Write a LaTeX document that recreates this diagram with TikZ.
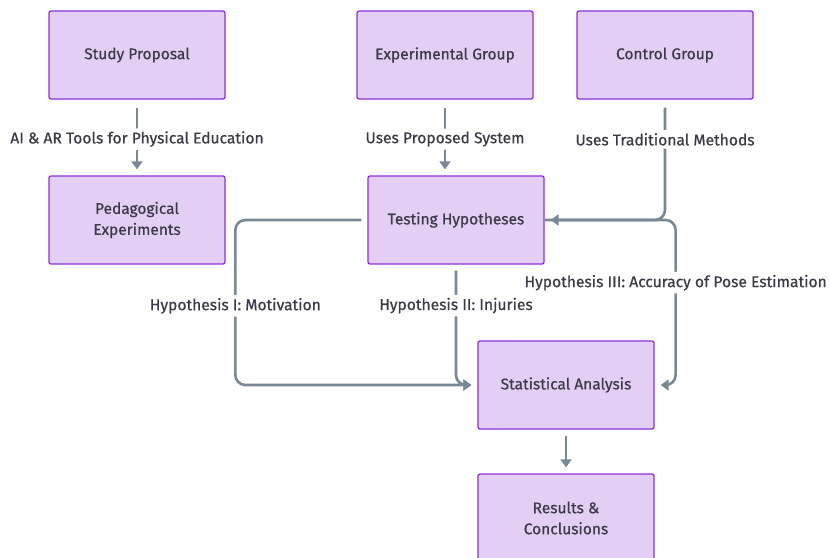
\documentclass[tikz,border=0pt]{standalone}
\usepackage{fontspec}
\setmainfont{Fira Sans}[FakeBold=0.6]
\usetikzlibrary{arrows.meta}
\definecolor{boxfill}{HTML}{E4CFF4}
\definecolor{boxline}{HTML}{8E2EDB}
\definecolor{edgec}{HTML}{7A8896}
\definecolor{txt}{HTML}{3A3A48}
\tikzset{
  box/.style={draw=boxline, fill=boxfill, line width=1.3pt, rounded corners=2pt,
    minimum width=176pt, minimum height=88pt, text=txt, align=center,
    font=\fontsize{15.5}{21}\selectfont, inner sep=2pt},
  conn/.style={draw=edgec, line width=2.6pt, rounded corners=10pt,
    -{Triangle[length=8pt,width=11pt]}},
  lbl/.style={fill=white, text=txt, font=\fontsize{15.6}{18}\selectfont, inner sep=3pt},
}
\begin{document}
\begin{tikzpicture}[x=1pt,y=1pt]
\useasboundingbox (0,0) rectangle (830,-557);
\node[box] (sp) at (137,-55) {Study Proposal};
\node[box] (eg) at (445,-55) {Experimental Group};
\node[box] (cg) at (665,-55) {Control Group};
\node[box] (pe) at (137,-220) {Pedagogical\\Experiments};
\node[box] (th) at (456,-220) {Testing Hypotheses};
\node[box] (sa) at (566,-385) {Statistical Analysis};
\node[box] (rc) at (566,-518) {Results \&\\Conclusions};

\draw[conn, shorten <=8pt, shorten >=6pt] (sp) -- node[lbl, pos=0.52] (l1) {AI \& AR Tools for Physical Education} (pe);
\draw[conn, shorten <=8pt, shorten >=6pt] (eg.south) -- node[lbl, pos=0.52] (l2) {Uses Proposed System} (eg.south |- th.north);
\draw[conn, shorten <=8pt, shorten >=6pt] (cg.south) |- node[lbl, pos=0.165] (l3) {Uses Traditional Methods} (th.east);
\draw[conn, shorten <=6pt, shorten >=6pt] (th.west) -- ++(-132,0) |- node[lbl, pos=0.26] (l4) {Hypothesis I: Motivation} (sa.west);
\draw[conn, shorten <=6pt, shorten >=6pt] (th.south) |- node[lbl, pos=0.17] (l5) {Hypothesis II: Injuries} (sa.west);
\draw[conn, shorten >=6pt] (th.east) -- ++(131,0) |- node[lbl, pos=0.19] (l6) {Hypothesis III: Accuracy of Pose Estimation} (sa.east);
\draw[conn, shorten <=6pt, shorten >=6pt] (sa) -- (rc);
\end{tikzpicture}
\end{document}
